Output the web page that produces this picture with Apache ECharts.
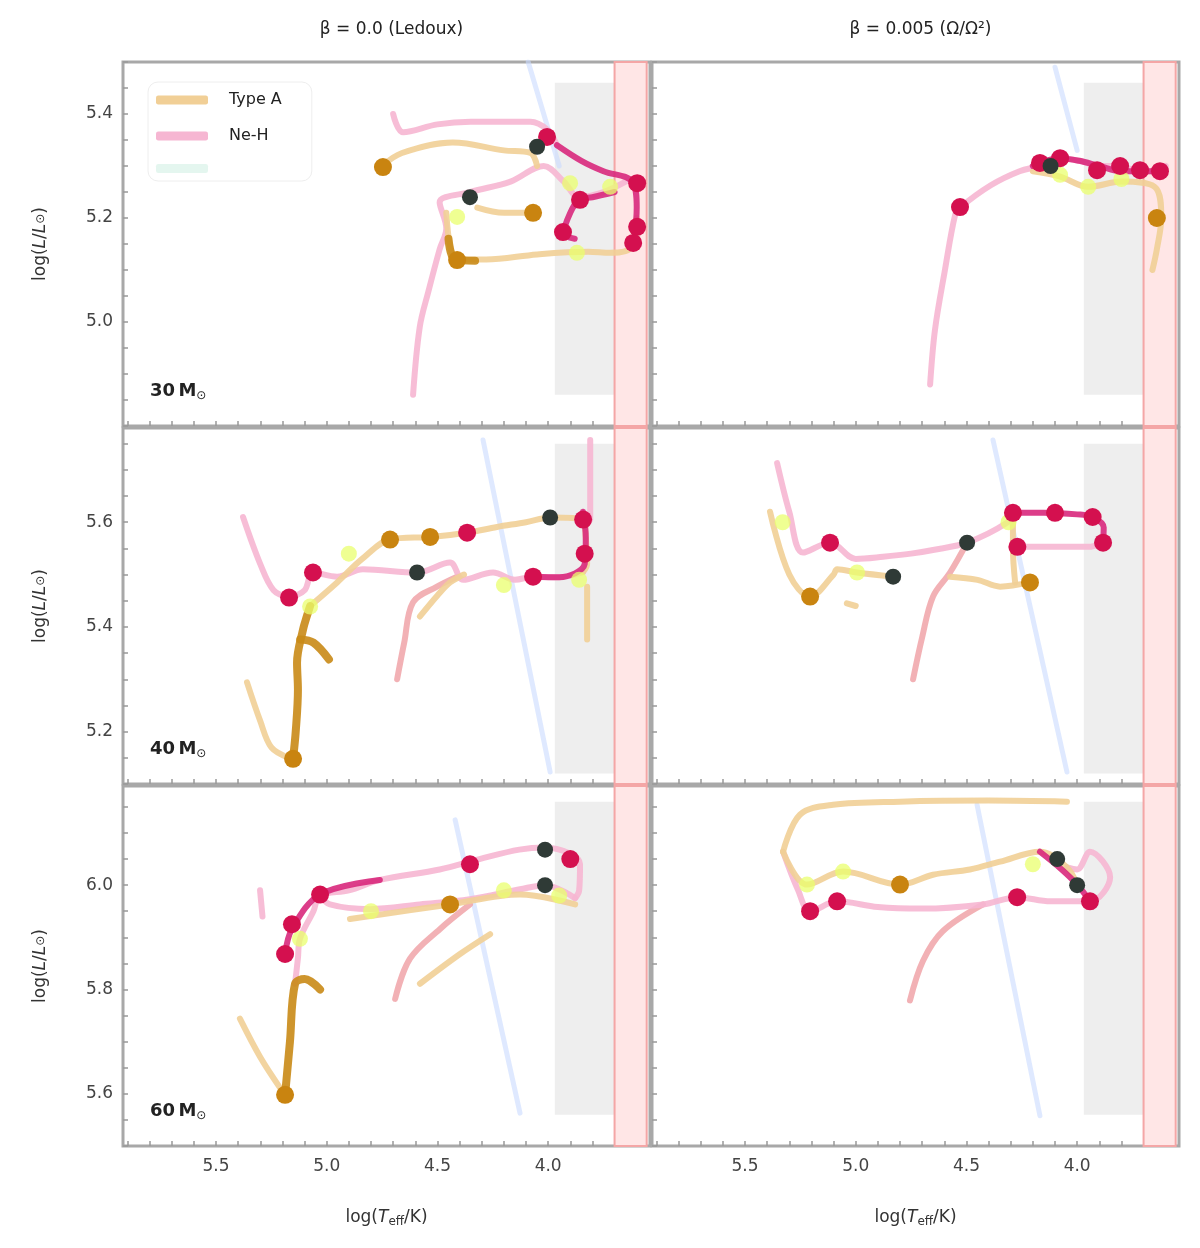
<!DOCTYPE html>
<html>
<head>
<meta charset="utf-8">
<script src="https://cdn.jsdelivr.net/npm/echarts@6/dist/echarts.min.js"></script>
<style>
  html, body { margin: 0; padding: 0; background: #fff; }
  #chart { width: 1200px; height: 1248px; }
</style>
</head>
<body>
<div id="chart"></div>
<script>
// axes
const xTicks = [4.0, 4.5, 5.0, 5.5]
const xRange = [3.54, 5.92]
const yRanges = [[4.8, 5.5], [5.1, 5.78], [5.5, 6.19]]
const yTicks = [[5.0, 5.2, 5.4], [5.2, 5.4, 5.6], [5.6, 5.8, 6.0]]
const columnTitles = ['β = 0.0 (Ledoux)', 'β = 0.005 (Ω/Ω²)']
const massLabels = ['30', '40', '60']
const legendNames = ['Type A', 'Ne-H', 'HD']

// shaded bands (log Teff) and their luminosity extent per row
const greyBandT = [3.70, 3.97]
const redBandT = [3.555, 3.70]
const greyBandL = [[4.86, 5.46], [5.12, 5.75], [5.56, 6.16]]

// ---- row 1, left
const p1OrangeUpper = [[4.75, 5.30], [4.66, 5.325], [4.43, 5.345], [4.20, 5.33], [4.08, 5.325], [4.05, 5.30]]
const p1OrangeLower = [[4.46, 5.21], [4.44, 5.14], [4.41, 5.12], [4.28, 5.12], [4.05, 5.13], [3.82, 5.135], [3.72, 5.133], [3.62, 5.145], [3.60, 5.20]]
const p1OrangeMid = [[4.32, 5.22], [4.20, 5.21], [4.07, 5.21]]
const p1OrangeDark = [[4.45, 5.16], [4.42, 5.12], [4.33, 5.118]]
const p1Pink = [[4.61, 4.86], [4.58, 4.99], [4.54, 5.06], [4.49, 5.14], [4.46, 5.18], [4.49, 5.23], [4.35, 5.25], [4.17, 5.27], [4.02, 5.30], [3.93, 5.27], [3.86, 5.24], [3.75, 5.25], [3.65, 5.27]]
const p1PinkUpper = [[4.70, 5.40], [4.655, 5.365], [4.50, 5.38], [4.35, 5.385], [4.08, 5.385], [4.005, 5.37], [3.96, 5.34]]
const p1Magenta = [[3.96, 5.34], [3.85, 5.31], [3.75, 5.29], [3.62, 5.27], [3.60, 5.22], [3.61, 5.16]]
const p1MagentaInner = [[3.70, 5.25], [3.80, 5.24], [3.86, 5.235], [3.90, 5.21], [3.93, 5.17], [3.88, 5.16]]
const p1Crimson = [[3.856, 5.235], [3.933, 5.173], [3.598, 5.267], [3.598, 5.183], [3.616, 5.152], [4.005, 5.356]]
const p1OrangeDots = [[4.411, 5.119], [4.068, 5.21], [4.746, 5.298]]
const p1DarkDots = [[4.05, 5.337], [4.353, 5.24]]
const p1Yellow = [[3.901, 5.267], [3.72, 5.26], [4.411, 5.202], [3.87, 5.133]]
const p1Hd = [[4.09, 5.50], [3.95, 5.30]]

// ---- row 1, right
const p2Pink = [[4.664, 4.88], [4.642, 4.985], [4.597, 5.10], [4.551, 5.206], [4.529, 5.22], [4.39, 5.263], [4.26, 5.29], [4.17, 5.30], [4.08, 5.315], [3.99, 5.31], [3.90, 5.30], [3.81, 5.30], [3.72, 5.29], [3.63, 5.29], [3.60, 5.30]]
const p2Magenta = [[4.20, 5.30], [4.08, 5.315], [3.99, 5.31], [3.90, 5.30], [3.80, 5.29], [3.72, 5.29], [3.63, 5.29]]
const p2Orange = [[4.20, 5.29], [4.08, 5.28], [3.95, 5.26], [3.80, 5.27], [3.65, 5.26], [3.62, 5.20], [3.64, 5.14], [3.66, 5.10]]
const p2Crimson = [[4.529, 5.221], [4.168, 5.306], [4.077, 5.315], [3.91, 5.292], [3.806, 5.30], [3.716, 5.292], [3.626, 5.29]]
const p2OrangeDots = [[3.64, 5.20]]
const p2DarkDots = [[4.12, 5.30]]
const p2Yellow = [[4.077, 5.283], [3.95, 5.26], [3.80, 5.275]]
const p2Hd = [[4.10, 5.49], [4.00, 5.33]]

// ---- row 2, left
const p3OrangeLight = [[5.36, 5.294], [5.30, 5.22], [5.25, 5.17], [5.17, 5.15]]
const p3OrangeDark = [[5.152, 5.148], [5.14, 5.20], [5.13, 5.28], [5.134, 5.332], [5.107, 5.395], [5.09, 5.42], [5.075, 5.44]]
const p3Hook = [[5.12, 5.376], [5.06, 5.37], [4.99, 5.338]]
const p3Main = [[5.075, 5.44], [4.953, 5.485], [4.84, 5.53], [4.714, 5.567], [4.533, 5.572], [4.366, 5.58], [4.231, 5.591], [4.10, 5.60], [3.991, 5.609], [3.842, 5.605], [3.83, 5.57], [3.824, 5.52], [3.842, 5.505]]
const p3Lower = [[3.842, 5.505], [3.95, 5.495], [4.068, 5.496], [4.15, 5.49], [4.249, 5.504], [4.384, 5.49], [4.443, 5.523], [4.592, 5.504], [4.836, 5.51], [4.953, 5.496], [5.062, 5.504], [5.10, 5.47], [5.17, 5.456]]
const p3PinkStart = [[5.378, 5.61], [5.30, 5.52], [5.24, 5.47], [5.17, 5.456]]
const p3Salmon = [[4.682, 5.30], [4.65, 5.37], [4.61, 5.447], [4.502, 5.477], [4.411, 5.496]]
const p3OrangeBranch = [[4.579, 5.42], [4.50, 5.46], [4.443, 5.485], [4.38, 5.50]]
const p3OrangeDown = [[3.824, 5.477], [3.824, 5.42], [3.824, 5.376]]
const p3PinkTop = [[3.81, 5.757], [3.81, 5.68], [3.81, 5.605]]
const p3Magenta = [[3.842, 5.62], [3.83, 5.57], [3.835, 5.52], [3.95, 5.495], [4.068, 5.496]]
const p3Crimson = [[5.17, 5.456], [5.062, 5.504], [4.366, 5.58], [4.068, 5.496], [3.842, 5.605], [3.835, 5.54]]
const p3OrangeDots = [[5.152, 5.148], [4.714, 5.567], [4.533, 5.572]]
const p3DarkDots = [[3.991, 5.609], [4.592, 5.504]]
const p3Yellow = [[5.075, 5.439], [4.90, 5.54], [4.20, 5.48], [3.86, 5.49]]
const p3Hd = [[4.294, 5.757], [3.991, 5.123]]

// ---- row 2, right
const p4PinkStart = [[5.355, 5.713], [5.30, 5.62], [5.238, 5.542], [5.116, 5.561], [5.00, 5.53], [4.877, 5.534], [4.75, 5.54], [4.651, 5.547], [4.497, 5.561], [4.317, 5.599], [4.29, 5.618]]
const p4Magenta = [[4.29, 5.618], [4.15, 5.618], [4.00, 5.615], [3.93, 5.61], [3.88, 5.59], [3.883, 5.561]]
const p4PinkLower = [[4.271, 5.553], [4.10, 5.553], [3.95, 5.553], [3.883, 5.561]]
const p4Orange = [[5.387, 5.62], [5.30, 5.50], [5.206, 5.458], [5.10, 5.50], [5.084, 5.51], [4.994, 5.504], [4.831, 5.496]]
const p4OrangeSmall = [[5.04, 5.445], [5.00, 5.44]]
const p4OrangeLower = [[4.574, 5.496], [4.45, 5.49], [4.348, 5.477], [4.213, 5.485]]
const p4OrangeVert = [[4.29, 5.618], [4.29, 5.55], [4.28, 5.485]]
const p4Salmon = [[4.741, 5.30], [4.70, 5.38], [4.651, 5.458], [4.574, 5.504], [4.497, 5.561]]
const p4Crimson = [[5.116, 5.561], [4.29, 5.618], [4.10, 5.618], [3.93, 5.61], [3.883, 5.561], [4.27, 5.553]]
const p4OrangeDots = [[5.206, 5.458], [4.213, 5.485]]
const p4DarkDots = [[4.831, 5.496], [4.497, 5.561]]
const p4Yellow = [[4.994, 5.504], [4.31, 5.60], [5.33, 5.60]]
const p4Hd = [[4.38, 5.757], [4.046, 5.123]]

// ---- row 3, left
const p5OrangeLight = [[5.392, 5.744], [5.30, 5.67], [5.21, 5.611]]
const p5OrangeDark = [[5.188, 5.598], [5.166, 5.70], [5.143, 5.811], [5.10, 5.82], [5.03, 5.80]]
const p5Pink = [[5.143, 5.811], [5.13, 5.86], [5.121, 5.897], [5.06, 5.95], [5.03, 5.98], [4.90, 5.99], [4.76, 6.01], [4.49, 6.03], [4.31, 6.05], [4.13, 6.068], [4.014, 6.072], [3.90, 6.06], [3.856, 6.04], [3.86, 5.99], [3.878, 5.975]]
const p5PinkShort = [[5.301, 5.99], [5.29, 5.94]]
const p5Lower = [[3.878, 5.975], [4.014, 6.00], [4.127, 5.992], [4.353, 5.973], [4.579, 5.963], [4.804, 5.954], [4.985, 5.963], [5.03, 5.982]]
const p5OrangeMid = [[4.895, 5.935], [4.443, 5.963], [4.127, 5.982], [3.878, 5.963]]
const p5Salmon = [[4.691, 5.782], [4.624, 5.859], [4.488, 5.916], [4.353, 5.963]]
const p5OrangeBranch = [[4.579, 5.811], [4.398, 5.868], [4.262, 5.906]]
const p5Magenta = [[5.188, 5.868], [5.157, 5.916], [5.03, 5.982], [4.76, 6.01]]
const p5Crimson = [[5.188, 5.868], [5.157, 5.925], [5.03, 5.982], [4.353, 6.04], [3.90, 6.05]]
const p5OrangeDots = [[5.188, 5.598], [4.443, 5.963]]
const p5DarkDots = [[4.014, 6.068], [4.014, 6.00]]
const p5Yellow = [[5.121, 5.897], [4.80, 5.95], [4.20, 5.99], [3.95, 5.98]]
const p5Hd = [[4.42, 6.125], [4.127, 5.563]]

// ---- row 3, right
const p6OrangeTop = [[5.328, 6.064], [5.252, 6.135], [5.102, 6.154], [4.80, 6.16], [4.40, 6.162], [4.046, 6.16]]
const p6PinkLeft = [[5.328, 6.064], [5.26, 5.99], [5.206, 5.95], [5.084, 5.969], [4.90, 5.958], [4.70, 5.955], [4.425, 5.963], [4.271, 5.977], [4.12, 5.969], [3.942, 5.969], [3.851, 6.015], [3.942, 6.064], [4.00, 6.03], [4.046, 6.034]]
const p6Orange = [[5.328, 6.064], [5.22, 6.001], [5.057, 6.026], [4.80, 6.001], [4.651, 6.02], [4.484, 6.03], [4.348, 6.045], [4.168, 6.064], [4.046, 6.034], [4.00, 6.001]]
const p6Salmon = [[4.755, 5.779], [4.696, 5.855], [4.606, 5.912], [4.425, 5.963]]
const p6Magenta = [[4.168, 6.064], [4.07, 6.03], [4.00, 6.001], [3.942, 5.969]]
const p6Crimson = [[5.206, 5.95], [5.084, 5.969], [4.271, 5.977], [3.942, 5.969]]
const p6OrangeDots = [[4.80, 6.001]]
const p6DarkDots = [[4.09, 6.05], [4.00, 6.00]]
const p6Yellow = [[5.22, 6.001], [5.057, 6.026], [4.20, 6.04]]
const p6Hd = [[4.452, 6.154], [4.168, 5.558]]

const panels = [
  { orangeLight: [p1OrangeUpper, p1OrangeLower, p1OrangeMid], orangeDark: [p1OrangeDark], pink: [p1Pink, p1PinkUpper], salmon: [], magenta: [p1Magenta, p1MagentaInner], crimson: p1Crimson, orangeDots: p1OrangeDots, darkDots: p1DarkDots, yellow: p1Yellow, hd: p1Hd },
  { orangeLight: [p2Orange], orangeDark: [], pink: [p2Pink], salmon: [], magenta: [p2Magenta], crimson: p2Crimson, orangeDots: p2OrangeDots, darkDots: p2DarkDots, yellow: p2Yellow, hd: p2Hd },
  { orangeLight: [p3OrangeLight, p3Main, p3OrangeBranch, p3OrangeDown], orangeDark: [p3OrangeDark, p3Hook], pink: [p3Lower, p3PinkStart, p3PinkTop], salmon: [p3Salmon], magenta: [p3Magenta], crimson: p3Crimson, orangeDots: p3OrangeDots, darkDots: p3DarkDots, yellow: p3Yellow, hd: p3Hd },
  { orangeLight: [p4Orange, p4OrangeSmall, p4OrangeLower, p4OrangeVert], orangeDark: [], pink: [p4PinkStart, p4PinkLower], salmon: [p4Salmon], magenta: [p4Magenta], crimson: p4Crimson, orangeDots: p4OrangeDots, darkDots: p4DarkDots, yellow: p4Yellow, hd: p4Hd },
  { orangeLight: [p5OrangeLight, p5OrangeMid, p5OrangeBranch], orangeDark: [p5OrangeDark], pink: [p5Pink, p5PinkShort, p5Lower], salmon: [p5Salmon], magenta: [p5Magenta], crimson: p5Crimson, orangeDots: p5OrangeDots, darkDots: p5DarkDots, yellow: p5Yellow, hd: p5Hd },
  { orangeLight: [p6OrangeTop, p6Orange], orangeDark: [], pink: [p6PinkLeft], salmon: [p6Salmon], magenta: [p6Magenta], crimson: p6Crimson, orangeDots: p6OrangeDots, darkDots: p6DarkDots, yellow: p6Yellow, hd: p6Hd }
]

const gridLefts = [123, 652]
const gridTops = [62, 428, 786]
const gridHeights = [364, 356, 360]
const gridWidth = 527

const steps = (a, b, s) => {
  const out = []
  for (let v = Math.ceil(a / s - 1e-9) * s; v <= b + 1e-9; v += s) out.push(+v.toFixed(3))
  return out
}

const grids = []
const xAxes = []
const yAxes = []
const series = []

panels.forEach((p, i) => {
  const row = Math.floor(i / 2)
  const col = i % 2
  grids.push({
    left: gridLefts[col], top: gridTops[row], width: gridWidth, height: gridHeights[row],
    show: true, borderColor: '#a8a8a8', borderWidth: 3, backgroundColor: '#fff'
  })
  xAxes.push({
    gridIndex: i, type: 'value', inverse: true, min: xRange[0], max: xRange[1],
    axisLine: { show: false },
    splitLine: { show: false },
    axisTick: { inside: true, length: 5, customValues: steps(3.6, 5.9, 0.1), lineStyle: { color: '#999', width: 1.5 } },
    axisLabel: {
      show: row === 2, customValues: xTicks, margin: 12,
      formatter: (v) => v.toFixed(1), color: '#444', fontSize: 17, fontFamily: 'DejaVu Sans'
    },
    name: row === 2 ? '{a|log(}{i|T}{s|eff}{a|/K)}' : '',
    nameLocation: 'middle', nameGap: 62,
    nameTextStyle: {
      rich: {
        a: { fontSize: 17, color: '#333', fontFamily: 'DejaVu Sans' },
        i: { fontSize: 17, color: '#333', fontStyle: 'italic', fontFamily: 'DejaVu Sans' },
        s: { fontSize: 12, color: '#333', verticalAlign: 'bottom', padding: [8, 0, 0, 0], fontFamily: 'DejaVu Sans' }
      }
    }
  })
  yAxes.push({
    gridIndex: i, type: 'value', min: yRanges[row][0], max: yRanges[row][1],
    axisLine: { show: false },
    splitLine: { show: false },
    axisTick: { inside: true, length: 5, customValues: steps(yRanges[row][0], yRanges[row][1], 0.05), lineStyle: { color: '#999', width: 1.5 } },
    axisLabel: {
      show: col === 0, customValues: yTicks[row], margin: 10,
      formatter: (v) => v.toFixed(1), color: '#444', fontSize: 17, fontFamily: 'DejaVu Sans'
    },
    name: col === 0 ? '{a|log(}{i|L}{a|/}{i|L}{s|⊙}{a|)}' : '',
    nameLocation: 'middle', nameGap: 74, nameRotate: 90,
    nameTextStyle: {
      rich: {
        a: { fontSize: 17, color: '#333', fontFamily: 'DejaVu Sans' },
        i: { fontSize: 17, color: '#333', fontStyle: 'italic', fontFamily: 'DejaVu Sans' },
        s: { fontSize: 12, color: '#333', fontFamily: 'DejaVu Sans' }
      }
    }
  })

  const base = { xAxisIndex: i, yAxisIndex: i, silent: true, animation: false }

  // bands
  series.push({
    ...base, type: 'line', data: [], z: 1,
    markArea: {
      silent: true,
      data: [
        [{ xAxis: greyBandT[0], yAxis: greyBandL[row][0], itemStyle: { color: '#eeeeee' } }, { xAxis: greyBandT[1], yAxis: greyBandL[row][1] }],
        [{ xAxis: redBandT[0], itemStyle: { color: '#ffe6e6', borderColor: '#f4a6a6', borderWidth: 2 } }, { xAxis: redBandT[1] }]
      ]
    }
  })

  const addLine = (data, name, color, width, z, opacity = 1) => series.push({
    ...base, type: 'line', name, data, z, smooth: 0.35, showSymbol: false,
    lineStyle: { color, width, opacity, cap: 'round', join: 'round' }
  })
  const addDots = (data, color, size, z, opacity = 1) => series.push({
    ...base, type: 'scatter', data, z, symbolSize: size,
    itemStyle: { color, opacity }
  })

  addLine(p.hd, legendNames[2], '#c9dbff', 5, 2, 0.6)
  p.salmon.forEach((d) => addLine(d, legendNames[1], '#f0a3a8', 6, 3, 0.85))
  p.pink.forEach((d) => addLine(d, legendNames[1], '#f6b6d2', 6, 3, 0.9))
  p.orangeLight.forEach((d) => addLine(d, legendNames[0], '#f1cf96', 6, 4, 0.9))
  p.magenta.forEach((d) => addLine(d, legendNames[1], '#d8287c', 6, 5, 0.9))
  p.orangeDark.forEach((d) => addLine(d, legendNames[0], '#c98a16', 8, 5, 0.9))
  addDots(p.yellow, '#eaff6e', 16, 6, 0.75)
  addDots(p.orangeDots, '#c98410', 18, 7)
  addDots(p.crimson, '#d4104f', 18, 7)
  addDots(p.darkDots, '#2f3a36', 16, 8)
})

const chart = echarts.init(document.getElementById('chart'))
chart.setOption({
  backgroundColor: '#fff',
  animation: false,
  title: columnTitles.map((t, c) => ({
    text: t, left: gridLefts[c] + gridWidth / 2, top: 16, textAlign: 'center',
    textStyle: { fontSize: 17, fontWeight: 'normal', color: '#222', fontFamily: 'DejaVu Sans' }
  })),
  legend: {
    data: [
      { name: legendNames[0], itemStyle: { color: '#f1cf96' } },
      { name: legendNames[1], itemStyle: { color: '#f6b6d2' } },
      { name: legendNames[2], itemStyle: { color: '#e4f6ef' } }
    ],
    orient: 'vertical', left: 148, top: 82, icon: 'roundRect',
    itemWidth: 52, itemHeight: 9, itemGap: 20,
    borderColor: '#eeeeee', borderWidth: 1, borderRadius: 10, padding: [10, 30, 8, 8],
    selectedMode: false,
    textStyle: { fontSize: 16, color: '#222', padding: [0, 0, 0, 16], fontFamily: 'DejaVu Sans' },
    formatter: (n) => (n === legendNames[2] ? '' : n)
  },
  grid: grids,
  xAxis: xAxes,
  yAxis: yAxes,
  graphic: massLabels.map((m, r) => ({
    type: 'text', left: 150, top: gridTops[r] + gridHeights[r] - 44, z: 100,
    style: {
      text: '{b|' + m + '} {b|M}{s|⊙}',
      rich: {
        b: { fontSize: 18, fontWeight: 'bold', fill: '#222', fontFamily: 'DejaVu Sans' },
        s: { fontSize: 12, fill: '#222', fontFamily: 'DejaVu Sans', padding: [10, 0, 0, 0] }
      }
    }
  })),
  series
})
</script>
</body>
</html>
